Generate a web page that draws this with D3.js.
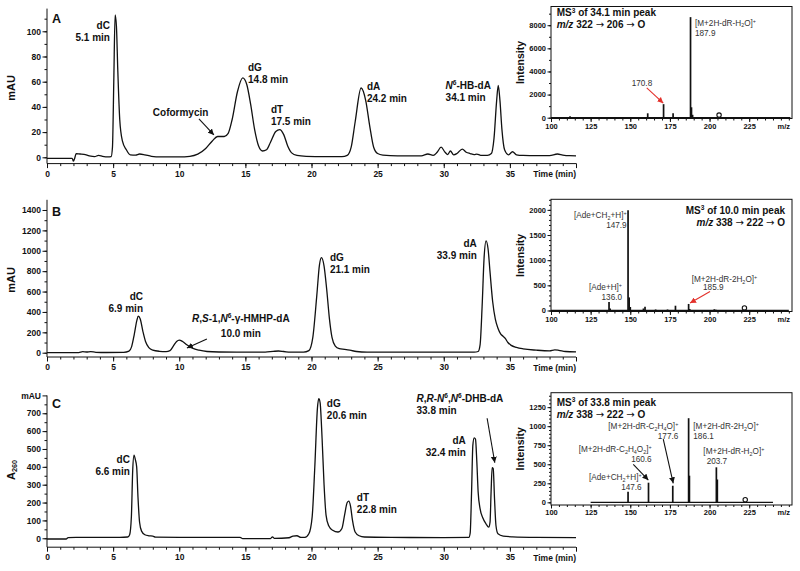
<!DOCTYPE html>
<html>
<head>
<meta charset="utf-8">
<script src="https://cdn.jsdelivr.net/npm/d3@7"></script>
<style>
  body { margin: 0; background: #fff; }
  text { font-family: "Liberation Sans", Arial, sans-serif; }
</style>
</head>
<body>
<svg id="fig" width="800" height="571"></svg>
<script>
// ---- chromatograms: [time (min), absorbance (mAU)] ----
const chromA = [[0,-0.8],[1.9,-0.8],[2.0,-3],[2.1,-0.5],[2.2,2.8],[2.5,2.6],[2.8,2.4],[3.2,1.2],[3.6,0.6],[3.9,1.5],[4.2,0.8],[4.6,0.3],[4.85,0.6],[4.95,8],[5.05,60],[5.15,113],[5.25,104],[5.35,70],[5.5,30],[5.7,13],[6.0,6],[6.3,2],[6.7,1.8],[7.0,2.6],[7.4,2],[7.9,0.8],[8.6,0.4],[10.0,0.4],[10.8,0.8],[11.4,2.5],[12.0,7],[12.5,13],[12.9,16.5],[13.4,16.5],[13.7,19],[14.0,30],[14.4,52],[14.8,63],[15.1,58],[15.4,42],[15.7,22],[16.0,9],[16.3,5],[16.6,6],[16.9,12],[17.3,20.5],[17.6,22],[17.9,18],[18.2,9],[18.5,3.5],[18.9,1.5],[19.6,0.8],[21.0,0.5],[22.3,0.5],[22.7,1.5],[23.0,8],[23.3,28],[23.75,55],[24.1,45],[24.4,25],[24.7,8],[25.0,3],[25.4,1.8],[26.5,1.2],[28.3,1.2],[28.8,2.6],[29.2,1.5],[29.5,4],[29.8,8],[30.1,4],[30.3,2.2],[30.5,5],[30.75,2],[31.0,3],[31.4,6.5],[31.7,4],[32.0,3],[32.3,2.2],[32.5,2.5],[32.8,1.6],[33.3,1.6],[33.6,3],[33.8,15],[34.0,45],[34.12,57],[34.25,45],[34.4,22],[34.6,6],[34.9,2],[35.2,4.4],[35.5,2],[36,1.5],[37,1.3],[38,1.4],[38.6,2.6],[39.0,1.8],[39.5,1.3],[40,1.2]];

const chromB = [[0,0],[2.4,1],[2.7,10],[3.0,7],[3.3,11],[3.7,4],[4.5,2],[5.8,3],[6.2,15],[6.4,60],[6.6,180],[6.8,320],[6.9,358],[7.05,330],[7.25,210],[7.45,110],[7.7,50],[8.0,25],[8.5,14],[9.0,11],[9.3,20],[9.55,65],[9.8,110],[10.0,124],[10.25,110],[10.6,75],[11.0,45],[11.5,25],[12.1,12],[13.0,7],[15.0,5],[16.5,6],[17.1,13],[17.5,17],[17.9,12],[18.4,5],[19.4,5],[19.8,20],[20.1,150],[20.4,560],[20.6,860],[20.75,932],[20.95,850],[21.15,620],[21.35,340],[21.55,150],[21.8,65],[22.1,40],[22.5,33],[22.9,25],[23.4,12],[24.2,6],[27,5],[30,5],[32.3,5],[32.6,12],[32.75,80],[32.9,450],[33.05,930],[33.2,1098],[33.35,1020],[33.5,790],[33.7,500],[33.9,330],[34.1,240],[34.3,185],[34.5,160],[34.65,140],[34.85,100],[35.1,72],[35.5,52],[36.0,38],[37.0,25],[38.0,18],[38.4,28],[38.7,24],[39.2,12],[40,8]];

const chromC = [[0,-4],[1.45,-4],[1.6,4],[2.2,5],[5.5,5],[6.1,7],[6.25,20],[6.38,120],[6.48,380],[6.58,466],[6.68,440],[6.78,400],[6.88,230],[7.0,90],[7.15,40],[7.4,20],[7.7,14],[8.0,12],[8.2,6],[10,5],[14.6,5],[14.8,-2],[16.9,-2],[17.05,8],[17.2,-1],[18.3,3],[18.6,12],[18.9,14],[19.2,5],[19.5,5],[19.8,25],[20.05,120],[20.25,400],[20.45,730],[20.55,782],[20.65,760],[20.8,560],[20.95,300],[21.1,130],[21.3,70],[21.6,45],[22.0,35],[22.3,55],[22.5,130],[22.7,200],[22.82,208],[22.95,180],[23.1,100],[23.3,35],[23.6,14],[24.0,7],[26,5],[30,4],[31.9,5],[32.0,30],[32.1,250],[32.2,520],[32.3,562],[32.4,555],[32.5,430],[32.6,260],[32.75,165],[32.95,115],[33.2,80],[33.4,62],[33.5,90],[33.58,260],[33.66,395],[33.74,390],[33.84,220],[33.95,70],[34.1,25],[34.5,12],[35.2,8],[37,5],[40,4]];

const timeTicks = [0, 5, 10, 15, 20, 25, 30, 35];
const yTicksA = [0, 20, 40, 60, 80, 100];
const yTicksB = [0, 200, 400, 600, 800, 1000, 1200, 1400];
const yTicksC = [0, 100, 200, 300, 400, 500, 600, 700, 800];

// ---- MS3 spectra: [m/z, intensity] ----
const spectrumA = [[112,130],[122,50],[137,60],[152,60],[161,380],[165,40],[171,1170],[177,380],[183,40],[188,8700],[188.6,900],[189.3,250],[195,50]];
const spectrumB = [[136.6,167],[137.3,40],[148.6,1990],[149.3,260],[150,70],[158.3,40],[159.3,75],[166,20],[173.5,20],[178.5,95],[186.8,130],[187.5,30],[203,25],[204,15]];
const spectrumC = [[148.6,140],[161.5,258],[176.8,218],[186.8,1105],[187.3,350],[204.3,460],[204.9,300]];
const scanRangeA = [100, 251], scanRangeB = [100, 250], scanRangeC = [125, 240];
const precursorA = 206, precursorB = 222, precursorC = 222.5;
const mzTicks = [100, 125, 150, 175, 200, 225];
const intTicksA = [0, 2000, 4000, 6000, 8000];
const intTicksB = [0, 500, 1000, 1500, 2000];
const intTicksC = [0, 250, 500, 750, 1000, 1250];

// ---- peak labels [time, mAU] / [m/z, intensity] ----
const peakLabelsA = [
  {x: 4.76, y: 102, anchor: "end", lines: ["dC", "5.1 min"]},
  {x: 15.2, y: 68.5, lines: ["dG", "14.8 min"]},
  {x: 16.93, y: 35.2, lines: ["dT", "17.5 min"]},
  {x: 8.0, y: 32.8, lines: ["Coformycin"]},
  {x: 24.19, y: 53.4, lines: ["dA", "24.2 min"]},
  {x: 30.14, y: 54.2, lines: ["<i>N</i><sup>6</sup>-HB-dA", "34.1 min"]}
];
const arrowsA = [{from: [11.49, 30.4], to: [12.62, 17.7]}];
const peakLabelsB = [
  {x: 7.26, y: 514, anchor: "end", lines: ["dC", "6.9 min"]},
  {x: 14.66, y: 301, anchor: "middle", gap: 15, lines: ["<i>R</i>,<i>S</i>-1,<i>N</i><sup>6</sup>-γ-HMHP-dA", "10.0 min"]},
  {x: 21.39, y: 900, lines: ["dG", "21.1 min"]},
  {x: 32.5, y: 1040, anchor: "end", lines: ["dA", "33.9 min"]}
];
const arrowsB = [{from: [12.09, 134], to: [10.58, 46]}];
const peakLabelsC = [
  {x: 6.27, y: 421, anchor: "end", lines: ["dC", "6.6 min"]},
  {x: 21.16, y: 735, lines: ["dG", "20.6 min"]},
  {x: 23.43, y: 209, lines: ["dT", "22.8 min"]},
  {x: 27.94, y: 763, lines: ["<i>R</i>,<i>R</i>-<i>N</i><sup>6</sup>,<i>N</i><sup>6</sup>-DHB-dA", "33.8 min"]},
  {x: 31.67, y: 528, anchor: "end", lines: ["dA", "32.4 min"]}
];
const arrowsC = [{from: [33.28, 672], to: [33.86, 423]}];

const titleA = {x: 103.6, y: 8757, anchor: "start", lines: ["MS<sup>3</sup> of 34.1 min peak", "<i>m/z</i> 322 → 206 → O"]};
const titleB = {x: 247.6, y: 1920, anchor: "end", lines: ["MS<sup>3</sup> of 10.0 min peak", "<i>m/z</i> 338 → 222 → O"]};
const titleC = {x: 103.6, y: 1271, anchor: "start", lines: ["MS<sup>3</sup> of 33.8 min peak", "<i>m/z</i> 338 → 222 → O"]};

const ionLabelsA = [
  {x: 190.8, y: 7974, lines: ["[M+2H-dR-H<sub>2</sub>O]<sup>+</sup>", "187.9"]},
  {x: 150.9, y: 2757, lines: ["170.8"]}
];
const ionArrowsA = [{from: [160.4, 2583], to: [170.8, 1252], color: "red"}];
const ionLabelsB = [
  {x: 147.7, y: 1841, anchor: "end", lines: ["[Ade+CH<sub>2</sub>+H]<sup>+</sup>", "147.9"]},
  {x: 144.8, y: 405, anchor: "end", lines: ["[Ade+H]<sup>+</sup>", "136.0"]},
  {x: 188.7, y: 564, lines: ["[M+2H-dR-2H<sub>2</sub>O]<sup>+</sup>"]},
  {x: 195.9, y: 405, lines: ["185.9"]}
];
const ionArrowsB = [{from: [200.3, 377], to: [187.7, 147], color: "red"}];
const ionLabelsC = [
  {x: 180.3, y: 960, anchor: "end", lines: ["[M+2H-dR-C<sub>2</sub>H<sub>4</sub>O]<sup>+</sup>", "177.6"]},
  {x: 189.75, y: 960, lines: ["[M+2H-dR-2H<sub>2</sub>O]<sup>+</sup>", "186.1"]},
  {x: 163.5, y: 662, anchor: "end", lines: ["[M+2H-dR-C<sub>2</sub>H<sub>4</sub>O<sub>2</sub>]<sup>+</sup>", "160.6"]},
  {x: 157.2, y: 295, anchor: "end", lines: ["[Ade+CH<sub>2</sub>+H]<sup>+</sup>", "147.6"]},
  {x: 196.1, y: 630, lines: ["[M+2H-dR-H<sub>2</sub>O]<sup>+</sup>"]},
  {x: 198.2, y: 505, lines: ["203.7"]}
];
const ionArrowsC = [
  {from: [151.9, 500], to: [161.4, 293], color: "black"},
  {from: [170.8, 830], to: [177.1, 250], color: "black"}
];

const INK = "#111";
const RED = "#e3312b";
const svg = d3.select("#fig");

const defs = svg.append("defs");
[["black", INK], ["red", RED]].forEach(([name, col]) => {
  defs.append("marker")
    .attr("id", "head-" + name)
    .attr("viewBox", "0 0 10 10")
    .attr("refX", 10).attr("refY", 5)
    .attr("markerWidth", 6).attr("markerHeight", 6)
    .attr("markerUnits", "userSpaceOnUse")
    .attr("orient", "auto")
    .append("path").attr("d", "M0,0 L10,5 L0,10 Z").attr("fill", col);
});

// text with <i>, <sup>, <sub> markup; arrows use DejaVu so they are full width
function richText(g, x, y, markup, o) {
  const size = o.size;
  const t = g.append("text")
    .attr("x", x).attr("y", y)
    .attr("text-anchor", o.anchor || "start")
    .attr("font-size", size)
    .attr("font-weight", o.weight || "bold")
    .attr("fill", o.fill || INK);
  let italic = false, mode = null, shift = 0;
  markup.split(/(<\/?(?:i|sup|sub)>|→)/).forEach(tok => {
    if (!tok) return;
    if (tok === "<i>") { italic = true; return; }
    if (tok === "</i>") { italic = false; return; }
    if (tok === "<sup>") { mode = "sup"; return; }
    if (tok === "<sub>") { mode = "sub"; return; }
    if (tok === "</sup>" || tok === "</sub>") { mode = null; return; }
    const target = mode === "sup" ? -size * 0.36 : mode === "sub" ? size * 0.2 : 0;
    const s = t.append("tspan").text(tok).attr("dy", target - shift);
    shift = target;
    if (italic) s.attr("font-style", "italic");
    if (mode) s.attr("font-size", size * 0.66);
    if (tok === "→") s.attr("font-family", "'DejaVu Sans', sans-serif").attr("font-weight", "normal");
  });
  return t;
}

function drawLabels(g, x, y, labels, o) {
  labels.forEach(l => {
    l.lines.forEach((line, i) => {
      richText(g, x(l.x), y(l.y) + i * (l.gap || o.gap), line,
        {size: o.size, weight: o.weight, fill: o.fill, anchor: l.anchor || "start"});
    });
  });
}

function drawArrows(g, x, y, arrows, col) {
  arrows.forEach(a => {
    const c = a.color || col;
    g.append("line")
      .attr("x1", x(a.from[0])).attr("y1", y(a.from[1]))
      .attr("x2", x(a.to[0])).attr("y2", y(a.to[1]))
      .attr("stroke", c === "red" ? RED : INK)
      .attr("stroke-width", 1.1)
      .attr("marker-end", "url(#head-" + c + ")");
  });
}

function styleAxis(g, size) {
  g.select(".domain").attr("stroke", INK).attr("stroke-width", 1);
  g.selectAll(".tick line").attr("stroke", INK);
  g.selectAll(".tick text")
    .attr("font-family", "'Liberation Sans', Arial, sans-serif")
    .attr("font-size", size).attr("font-weight", "bold").attr("fill", INK);
}

// ---- main chromatogram panels ----
function chromPanel(cfg) {
  const g = svg.append("g");
  const x = d3.scaleLinear().domain([0, 40]).range([47, 576]);
  const y = d3.scaleLinear().domain(cfg.yDomain).range(cfg.yRange);
  const bottom = y(cfg.yDomain[0]);

  // minor ticks
  g.append("g").attr("transform", `translate(0,${bottom})`)
    .call(d3.axisBottom(x).tickValues(d3.range(0, 41, 1)).tickSize(2.5).tickFormat(""))
    .call(a => { a.select(".domain").remove(); a.selectAll("line").attr("stroke", INK); });
  g.append("g").attr("transform", "translate(47,0)")
    .call(d3.axisLeft(y).tickValues(d3.range(0, cfg.yDomain[1], cfg.yMinor)).tickSize(2.5).tickFormat(""))
    .call(a => { a.select(".domain").remove(); a.selectAll("line").attr("stroke", INK); });

  const xa = g.append("g").attr("transform", `translate(0,${bottom})`)
    .call(d3.axisBottom(x).tickValues(timeTicks.concat([40])).tickSize(4.5).tickSizeOuter(0).tickPadding(2.5)
      .tickFormat(d => d === 40 ? "" : d));
  styleAxis(xa, 8.5);
  xa.select(".domain").attr("d", `M47,0H${x(40)}`);

  const ya = g.append("g").attr("transform", "translate(47,0)")
    .call(d3.axisLeft(y).tickValues(cfg.yTicks).tickSize(4.5).tickSizeOuter(0).tickPadding(1.5)
      .tickFormat(cfg.yFormat || (d => d)));
  styleAxis(ya, 8.5);
  ya.select(".domain").attr("d", `M0,${y(cfg.yDomain[1])}V${bottom}`);

  g.append("text")
    .attr("x", x(40)).attr("y", bottom + 13.5)
    .attr("text-anchor", "end").attr("font-size", 8.5).attr("font-weight", "bold").attr("fill", INK)
    .text("Time (min)");

  richText(g, 0, 0, cfg.yLabel, {size: 11, anchor: "middle"})
    .attr("transform", `translate(15,${cfg.yLabelY}) rotate(-90)`);

  g.append("text")
    .attr("x", 52).attr("y", cfg.letterY)
    .attr("font-size", 12.5).attr("font-weight", "bold").attr("fill", INK)
    .text(cfg.letter);

  g.append("path")
    .datum(cfg.data)
    .attr("fill", "none").attr("stroke", INK).attr("stroke-width", 1.3)
    .attr("stroke-linejoin", "round")
    .attr("d", d3.line().x(d => x(d[0])).y(d => y(d[1])).curve(d3.curveMonotoneX));

  drawLabels(g, x, y, cfg.labels, {size: 10, gap: 12});
  drawArrows(g, x, y, cfg.arrows, "black");
}

chromPanel({data: chromA, yDomain: [-5, 118], yRange: [163.6, 8.6], yTicks: yTicksA, yMinor: 10,
  yLabel: "mAU", yLabelY: 88, letter: "A", letterY: 23, labels: peakLabelsA, arrows: arrowsA});
chromPanel({data: chromB, yDomain: [-42, 1500], yRange: [357, 199.8], yTicks: yTicksB, yMinor: 100,
  yLabel: "mAU", yLabelY: 280, letter: "B", letterY: 216, labels: peakLabelsB, arrows: arrowsB});
chromPanel({data: chromC, yDomain: [-50, 800], yRange: [547.2, 395.4], yTicks: yTicksC, yMinor: 50,
  yFormat: d => d === 800 ? "mAU" : d,
  yLabel: "A<sub>260</sub>", yLabelY: 470, letter: "C", letterY: 408, labels: peakLabelsC, arrows: arrowsC});

// ---- MS3 inset panels ----
function msPanel(cfg) {
  const g = svg.append("g");
  const x = d3.scaleLinear().domain([100, 252]).range([551, 792]);
  const y = d3.scaleLinear().domain(cfg.yDomain).range(cfg.yRange);
  const top = cfg.yRange[1], bottom = cfg.yRange[0];

  g.append("g").attr("transform", `translate(0,${bottom})`)
    .call(d3.axisBottom(x).tickValues(d3.range(100, 251, 5)).tickSize(2).tickFormat(""))
    .call(a => { a.select(".domain").remove(); a.selectAll("line").attr("stroke", INK); });
  g.append("g").attr("transform", "translate(551,0)")
    .call(d3.axisLeft(y).tickValues(d3.range(0, cfg.yDomain[1], cfg.yMinor)).tickSize(2).tickFormat(""))
    .call(a => { a.select(".domain").remove(); a.selectAll("line").attr("stroke", INK); });

  const xa = g.append("g").attr("transform", `translate(0,${bottom})`)
    .call(d3.axisBottom(x).tickValues(mzTicks).tickSize(3.5).tickSizeOuter(0).tickPadding(1.5).tickFormat(d3.format("d")));
  styleAxis(xa, 7.5);
  xa.select(".domain").remove();
  const ya = g.append("g").attr("transform", "translate(551,0)")
    .call(d3.axisLeft(y).tickValues(cfg.yTicks).tickSize(3.5).tickSizeOuter(0).tickPadding(1.5).tickFormat(d3.format("d")));
  styleAxis(ya, 7.5);
  ya.select(".domain").remove();

  g.append("rect")
    .attr("x", 551).attr("y", top).attr("width", 792 - 551).attr("height", bottom - top)
    .attr("fill", "none").attr("stroke", INK).attr("stroke-width", 1);

  g.append("text")
    .attr("x", 790).attr("y", bottom + 10)
    .attr("text-anchor", "end").attr("font-size", 7.5).attr("font-weight", "bold").attr("fill", INK)
    .text("m/z");
  g.append("text")
    .attr("transform", `translate(524,${(top + bottom) / 2}) rotate(-90)`)
    .attr("text-anchor", "middle").attr("font-size", 10.5).attr("font-weight", "bold").attr("fill", INK)
    .text("Intensity");

  // baseline of the scan and the ion sticks
  g.append("line")
    .attr("x1", x(cfg.scan[0])).attr("x2", x(cfg.scan[1]))
    .attr("y1", y(0)).attr("y2", y(0))
    .attr("stroke", INK).attr("stroke-width", 1.4);
  g.selectAll("line.stick").data(cfg.data).join("line")
    .attr("class", "stick")
    .attr("x1", d => x(d[0])).attr("x2", d => x(d[0]))
    .attr("y1", y(0)).attr("y2", d => y(d[1]))
    .attr("stroke", INK).attr("stroke-width", 1.7);
  g.append("circle")
    .attr("cx", x(cfg.precursor)).attr("cy", y(0) - 2.6).attr("r", 2.2)
    .attr("fill", "none").attr("stroke", INK).attr("stroke-width", 1.1);

  const t = cfg.title;
  t.lines.forEach((line, i) => {
    richText(g, x(t.x), y(t.y) + i * 12, line, {size: 10, anchor: t.anchor});
  });
  drawLabels(g, x, y, cfg.labels, {size: 8.2, weight: "normal", fill: "#333", gap: 10});
  drawArrows(g, x, y, cfg.arrows, "black");
}

msPanel({data: spectrumA, scan: scanRangeA, precursor: precursorA, yDomain: [-70, 9620], yRange: [118.5, 6.5],
  yTicks: intTicksA, yMinor: 1000, title: titleA, labels: ionLabelsA, arrows: ionArrowsA});
msPanel({data: spectrumB, scan: scanRangeB, precursor: precursorB, yDomain: [-20, 2210], yRange: [311.5, 199.3],
  yTicks: intTicksB, yMinor: 100, title: titleB, labels: ionLabelsB, arrows: ionArrowsB});
msPanel({data: spectrumC, scan: scanRangeC, precursor: precursorC, yDomain: [-35, 1440], yRange: [505, 392.7],
  yTicks: intTicksC, yMinor: 50, title: titleC, labels: ionLabelsC, arrows: ionArrowsC});
</script>
</body>
</html>
